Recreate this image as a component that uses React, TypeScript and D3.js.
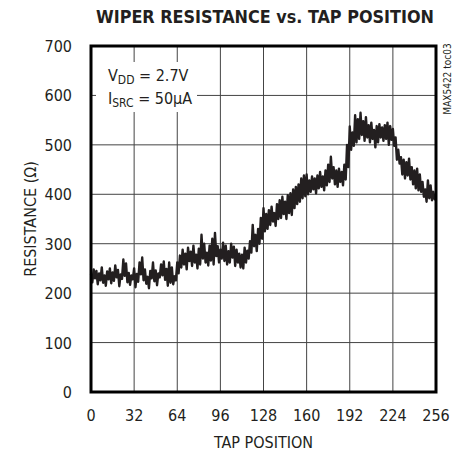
import React from 'react';
import * as d3 from 'd3';

// wiper resistance (ohms) read at each tap, 0..256
const resistance = [
  238, 222, 248, 230, 245, 218, 240, 226, 252, 221, 236, 215, 244, 228, 250, 220,
  242, 225, 256, 232, 247, 214, 238, 229, 268, 235, 260, 222, 241, 217, 236, 228,
  250, 212, 239, 223, 262, 238, 272, 226, 248, 219, 233, 210, 245, 230, 262, 224,
  246, 216, 240, 232, 258, 236, 264, 227, 249, 215, 262, 221, 252, 218, 234, 226,
  262, 240, 276, 252, 288, 258, 280, 248, 292, 265, 284, 255, 296, 262, 278, 250,
  290, 258, 318, 270, 300, 262, 282, 256, 296, 266, 310, 258, 322, 275, 295, 262,
  288, 270, 302, 265, 296, 258, 285, 262, 300, 272, 294, 255, 288, 262, 280, 252,
  278, 250, 292, 262, 286, 270, 305, 282, 338, 295, 318, 285, 330, 300, 352, 310,
  372, 325, 360, 330, 368, 338, 375, 345, 362, 336, 380, 350, 388, 352, 395, 360,
  385, 350, 398, 362, 402, 358, 410, 372, 415, 380, 420, 385, 432, 392, 438, 396,
  440, 400, 428, 405, 436, 410, 432, 402, 438, 412, 445, 415, 436, 408, 448, 418,
  460, 425, 476, 432, 455, 420, 448, 415, 452, 425, 445, 418, 460, 430, 500, 455,
  537, 490, 525, 498, 560, 505, 552, 512, 565, 520, 548, 508, 556, 515, 540, 505,
  545, 512, 530, 495, 538, 505, 542, 515, 535, 508, 540, 512, 545, 500, 538, 510,
  532, 498, 515, 470, 490, 462, 475, 440, 470, 432, 465, 438, 472, 430, 455, 420,
  448, 412, 452, 408, 440, 405, 425, 395, 410, 385, 428, 392, 418, 388, 405, 390,
  398,
];

const xTicks = [0, 32, 64, 96, 128, 160, 192, 224, 256];
const yTicks = [0, 100, 200, 300, 400, 500, 600, 700];

const W = 463;
const H = 451;
const left = 91, right = 436, top = 46, bottom = 392;
const ink = '#231f20';
const font = "'Liberation Sans Narrow', 'DejaVu Sans Condensed', sans-serif";

const App = () => {
  const x = d3.scaleLinear().domain([0, 256]).range([left, right]);
  const y = d3.scaleLinear().domain([0, 700]).range([bottom, top]);

  const line = d3.line<number>()
    .x((d, i) => x(i))
    .y(d => y(d));

  return (
    <svg width={W} height={H} style={{ position: 'absolute', left: 0, top: 0, background: '#fff' }}>
      {/* titre */}
      <text x={265} y={23} textAnchor="middle" fontFamily="'DejaVu Sans Condensed', sans-serif"
        fontWeight="bold" fontSize={18} fill={ink} textLength={338} lengthAdjust="spacingAndGlyphs">
        WIPER RESISTANCE vs. TAP POSITION
      </text>

      {/* grille */}
      {xTicks.slice(1, -1).map(t => (
        <line key={'gx' + t} x1={x(t)} x2={x(t)} y1={top} y2={bottom} stroke="#444" strokeWidth={1} />
      ))}
      {yTicks.slice(1, -1).map(t => (
        <line key={'gy' + t} x1={left} x2={right} y1={y(t)} y2={y(t)} stroke="#444" strokeWidth={1} />
      ))}

      {/* courbe */}
      <path d={line(resistance) || ''} fill="none" stroke={ink} strokeWidth={2.4} strokeLinejoin="round" />

      {/* légende */}
      <rect x={96} y={62} width={101} height={50} fill="#fff" />
      <text x={108} y={81} fontFamily={font} fontSize={16} fill={ink}>
        V<tspan fontSize={12} dy={3}>DD</tspan><tspan dy={-3}> = 2.7V</tspan>
      </text>
      <text x={108} y={104} fontFamily={font} fontSize={16} fill={ink}>
        I<tspan fontSize={12} dy={3}>SRC</tspan><tspan dy={-3}> = 50μA</tspan>
      </text>

      {/* cadre */}
      <rect x={left} y={top} width={right - left} height={bottom - top} fill="none" stroke="#000" strokeWidth={3} />

      {/* axes */}
      {yTicks.map(t => (
        <text key={'ly' + t} x={72} y={y(t) + 6} textAnchor="end" fontFamily={font} fontSize={16} fill={ink}>{t}</text>
      ))}
      {xTicks.map(t => (
        <text key={'lx' + t} x={x(t)} y={421} textAnchor="middle" fontFamily={font} fontSize={16} fill={ink}>{t}</text>
      ))}
      <text x={(left + right) / 2} y={448} textAnchor="middle" fontFamily={font} fontSize={16} fill={ink}>TAP POSITION</text>
      <text transform={`translate(36, ${(top + bottom) / 2}) rotate(-90)`} textAnchor="middle" fontFamily={font} fontSize={16} fill={ink}>
        RESISTANCE (Ω)
      </text>
      <text transform="translate(451, 79) rotate(-90)" textAnchor="middle" fontFamily={font} fontSize={10} fill={ink}>
        MAX5422 toc03
      </text>
    </svg>
  );
};

export default App;
